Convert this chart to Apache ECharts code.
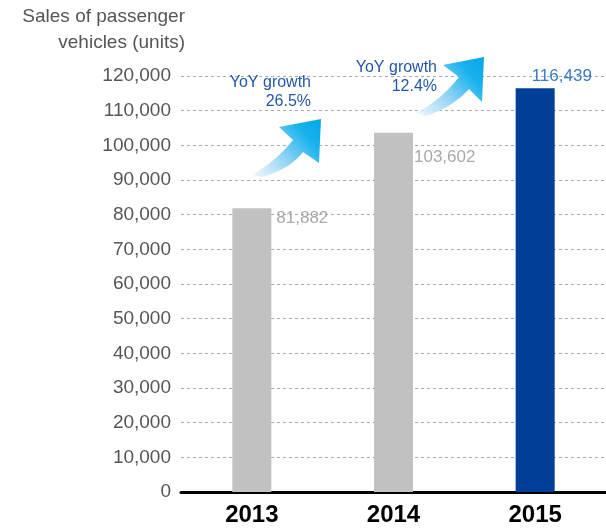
<!DOCTYPE html>
<html>
<head>
<meta charset="utf-8">
<script src="https://cdn.jsdelivr.net/npm/echarts@6/dist/echarts.min.js"></script>
<style>html,body{margin:0;padding:0;background:#fff;}#c{width:606px;height:530px;}</style>
</head>
<body>
<div id="c"></div>
<script>
// ---- data ----
var years = ['2013', '2014', '2015'];
var sales = [81882, 103602, 116439];
var growthLabels = ['26.5%', '12.4%'];
var yTicks = [0, 10000, 20000, 30000, 40000, 50000, 60000, 70000, 80000, 90000, 100000, 110000, 120000];

// ---- style ----
var barColors = ['#c0c1c0', '#c0c1c0', '#003f98'];
var labelColors = ['#a9a9a9', '#a9a9a9', '#3a7cc4'];
var labelOffsets = [[44, 10], [40, 24], [16, -12]];
var FONT = '"Liberation Sans", Arial, sans-serif';

var chart = echarts.init(document.getElementById('c'), null, {renderer: 'canvas'});

function fmt(v) { return v.toLocaleString('en-US'); }

var option = {
  animation: false,
  grid: {left: 181, top: 76, width: 426, height: 416, containLabel: false},
  xAxis: {
    type: 'category',
    data: years,
    axisLine: {lineStyle: {color: '#000', width: 3}},
    axisTick: {show: false},
    axisLabel: {color: '#000', fontSize: 24, fontWeight: 'bold', fontFamily: FONT, margin: 11}
  },
  yAxis: {
    type: 'value',
    min: yTicks[0],
    max: yTicks[yTicks.length - 1],
    interval: yTicks[1] - yTicks[0],
    axisLine: {show: false},
    axisTick: {show: false},
    axisLabel: {color: '#555', fontSize: 19, fontFamily: FONT, margin: 10, formatter: function (v) { return fmt(v); }},
    splitLine: {lineStyle: {color: '#aaa', width: 1, type: [3, 3]}}
  },
  series: [{
    type: 'bar',
    barWidth: 39,
    data: sales.map(function (v, i) {
      return {
        value: v,
        itemStyle: {color: barColors[i]},
        label: {
          show: true,
          position: labelOffsets[i],
          verticalAlign: 'middle',
          align: 'left',
          color: labelColors[i],
          fontSize: 17,
          fontFamily: FONT,
          formatter: function (p) { return fmt(p.value); }
        }
      };
    })
  }]
};
chart.setOption(option);

function arrowGradient() {
  return {
    type: 'linear', x: 0, y: 1, x2: 1, y2: 0,
    colorStops: [
      {offset: 0, color: 'rgba(235,246,253,0.8)'},
      {offset: 0.45, color: '#86d0f3'},
      {offset: 0.75, color: '#1ab3ee'},
      {offset: 1, color: '#00a6e8'}
    ]
  };
}

// quadratic curve sampler for the decorative arrow outline
function quad(p0, c, p1, n) {
  var pts = [];
  for (var k = 1; k <= n; k++) {
    var t = k / n, u = 1 - t;
    pts.push([u * u * p0[0] + 2 * u * t * c[0] + t * t * p1[0], u * u * p0[1] + 2 * u * t * c[1] + t * t * p1[1]]);
  }
  return pts;
}
function arrowPoints(tip, leftC, notchL, ctrlTop, tailA, tailB, ctrlBot, notchR, rightC) {
  var pts = [tip, leftC, notchL];
  pts = pts.concat(quad(notchL, ctrlTop, tailA, 16));
  pts.push(tailB);
  pts = pts.concat(quad(tailB, ctrlBot, notchR, 16));
  pts.push(rightC);
  return pts;
}

var textBlue = '#2457a8';
chart.setOption({
  graphic: [
    {type: 'text', x: 185, y: 4, style: {
      text: 'Sales of passenger\nvehicles (units)', align: 'right', verticalAlign: 'top',
      lineHeight: 26, fill: '#555', font: '19px ' + FONT
    }},
    {type: 'polygon', shape: {points: arrowPoints([321, 119], [279, 127], [293, 140], [275, 162], [252, 175], [262, 177], [290, 169], [303, 152], [319, 163])},
      style: {fill: arrowGradient()}},
    {type: 'polygon', shape: {points: arrowPoints([484, 57], [443, 65], [459, 77], [441, 100], [416, 113], [426, 116], [453, 107], [469, 89], [482, 102])},
      style: {fill: arrowGradient()}},
    {type: 'text', x: 311, y: 73, style: {text: 'YoY growth\n' + growthLabels[0], align: 'right', verticalAlign: 'top',
      lineHeight: 19, font: '16px ' + FONT, fill: textBlue}},
    {type: 'text', x: 437, y: 58, style: {text: 'YoY growth\n' + growthLabels[1], align: 'right', verticalAlign: 'top',
      lineHeight: 19, font: '16px ' + FONT, fill: textBlue}}
  ]
});
</script>
</body>
</html>
